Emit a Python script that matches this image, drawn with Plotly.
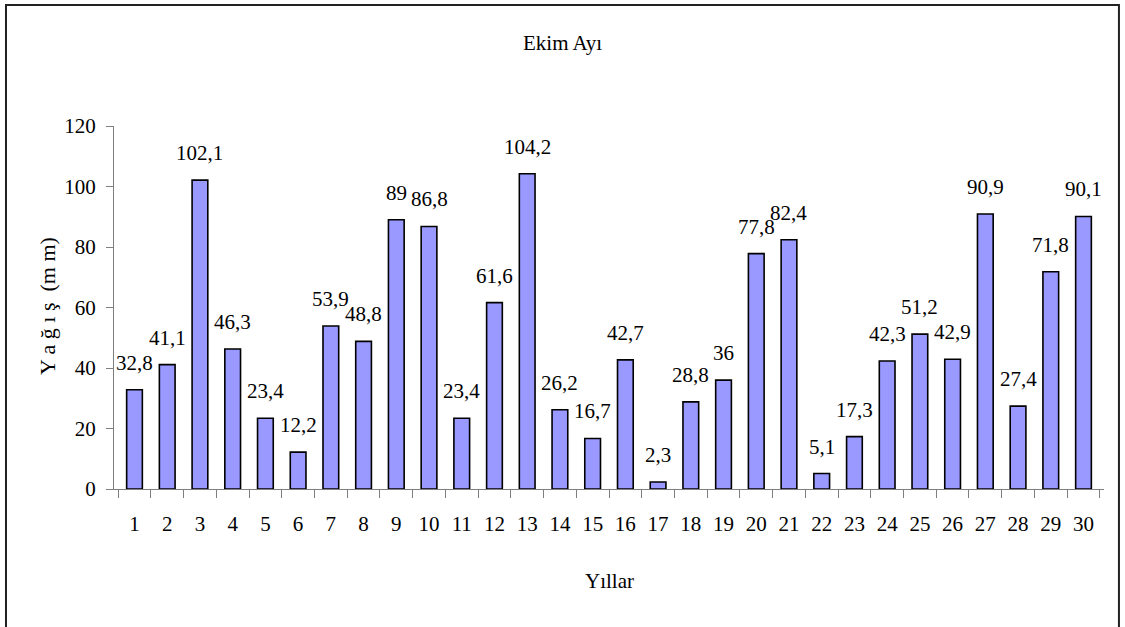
import plotly.graph_objects as go

# October precipitation per year
years = [str(i) for i in range(1, 31)]
rain_mm = [32.8, 41.1, 102.1, 46.3, 23.4, 12.2, 53.9, 48.8, 89, 86.8,
           23.4, 61.6, 104.2, 26.2, 16.7, 42.7, 2.3, 28.8, 36, 77.8,
           82.4, 5.1, 17.3, 42.3, 51.2, 42.9, 90.9, 27.4, 71.8, 90.1]
y_ticks = [0, 20, 40, 60, 80, 100, 120]

FONT = "Liberation Serif"
AXIS_GRAY = "#7f7f7f"

fig = go.Figure()
fig.add_trace(go.Bar(
    x=years, y=rain_mm,
    width=0.48,
    marker=dict(color="#9999ff", line=dict(color="black", width=1.6)),
    hoverinfo="x+y",
))

def fmt(v):
    return f"{v:g}".replace(".", ",")

# value labels above each bar (category axis: position by index)
for idx, v in enumerate(rain_mm):
    fig.add_annotation(x=idx, y=v, text=fmt(v), showarrow=False,
                       xref="x", yref="y", yanchor="bottom", yshift=13,
                       font=dict(family=FONT, size=21, color="black"))

# chart title, axis titles
fig.add_annotation(x=0.4535, y=1.2287, xref="paper", yref="paper",
                   xanchor="center", yanchor="middle",
                   text="Ekim Ayı", showarrow=False,
                   font=dict(family=FONT, size=21, color="black"))
fig.add_annotation(x=0.501, y=-0.2534, xref="paper", yref="paper",
                   xanchor="center", yanchor="middle",
                   text="Yıllar", showarrow=False,
                   font=dict(family=FONT, size=21, color="black"))
fig.add_annotation(x=-0.0677, y=0.504, xref="paper", yref="paper",
                   xanchor="center", yanchor="middle",
                   text="Y a ğ ı ş  (m m)", showarrow=False, textangle=-90,
                   font=dict(family=FONT, size=22, color="black"))

# outer frame around the chart
fig.add_shape(type="rect", xref="paper", yref="paper",
              x0=-0.1091, x1=1.0151, y0=-0.5, y1=1.3333,
              line=dict(color="#222222", width=2), fillcolor="rgba(0,0,0,0)",
              layer="below")

fig.update_layout(
    width=1125, height=627,
    margin=dict(l=114, r=21, t=126, b=138),
    paper_bgcolor="white", plot_bgcolor="white",
    showlegend=False,
    font=dict(family=FONT, size=21, color="black"),
    xaxis=dict(
        type="category", tickson="boundaries",
        ticks="outside", ticklen=8, tickcolor=AXIS_GRAY, tickwidth=1.3,
        showline=True, linecolor=AXIS_GRAY, linewidth=1.3,
        showgrid=False, zeroline=False,
        tickfont=dict(family=FONT, size=21, color="black"),
        ticklabelstandoff=16,
    ),
    yaxis=dict(
        range=[0, 120], tickvals=y_ticks,
        ticks="outside", ticklen=7, tickcolor=AXIS_GRAY, tickwidth=1.3,
        showline=True, linecolor=AXIS_GRAY, linewidth=1.3,
        showgrid=False, zeroline=False,
        tickfont=dict(family=FONT, size=21, color="black"),
        ticklabelstandoff=6,
    ),
)

fig.write_html("out.html")
